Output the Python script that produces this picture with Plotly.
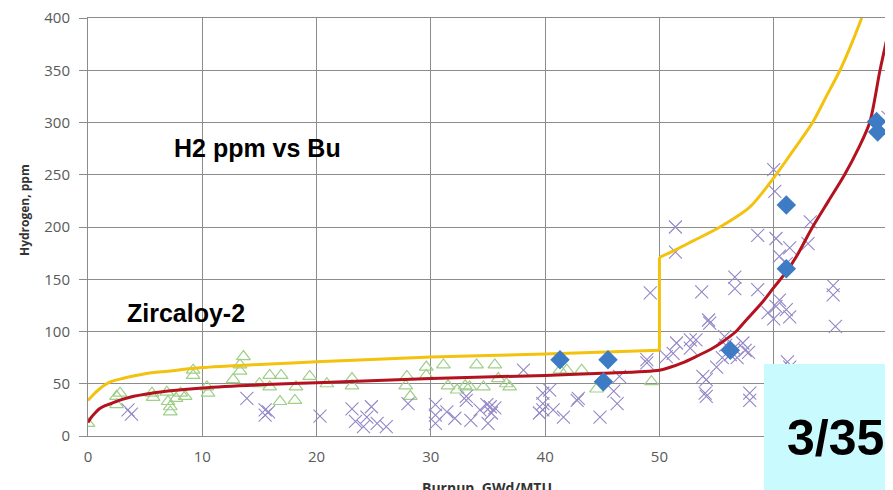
import plotly.graph_objects as go

# ---- data ----
tri_x = [0, 2.5, 2.8, 2.5, 5.6, 5.7, 6.9, 7.0, 7.2, 7.2, 7.7, 8.1, 8.5, 9.2, 9.2, 10.4, 10.5,
         12.7, 13.6, 13.3, 13.3, 15.0, 15.9, 16.9, 15.9, 16.8, 18.1, 18.2, 19.4, 20.9, 23.1, 23.1,
         27.9, 27.8, 28.2, 29.6, 31.1, 29.6, 31.5, 32.3, 33.0, 34.0, 35.6, 34.6, 35.9, 36.9, 33.4,
         36.6, 41.3, 41.9, 43.2, 44.5, 49.3]
tri_y = [12, 38, 41, 30, 41, 37, 42, 33, 23, 28, 36, 41, 38, 63, 58, 47, 41,
         54, 76, 68, 62, 50, 58, 58, 47, 33, 34, 47, 57, 50, 55, 48,
         57, 48, 38, 66, 68, 58, 48, 44, 48, 68, 68, 47, 55, 47, 47,
         50, 63, 63, 63, 45, 52]

x_x = [3.5, 3.8, 13.9, 15.5, 15.5, 15.8, 20.3, 23.1, 23.4, 24.4, 24.8, 25.3, 26.1, 24.1, 28.0,
       30.4, 30.4, 30.4, 31.4, 32.1, 33.1, 33.5, 34.3, 34.9, 35.3, 35.0, 35.6, 38.1, 39.8, 33.1,
       35.2, 39.8, 39.5, 41.6, 42.8, 44.8, 46.3, 46.0, 40.4, 39.8, 40.7, 42.9, 46.5, 48.9, 50.6,
       51.5, 52.7, 53.2, 54.4, 55.0, 53.8, 54.1, 57.9, 54.1, 54.0, 57.3, 56.5, 57.8, 56.2, 55.8,
       55.5, 56.8, 57.5, 55.7, 49.2, 51.4, 51.4, 60.0, 60.1, 58.6, 60.2, 61.4, 63.2, 63.0, 56.6,
       56.6, 53.7, 58.6, 54.3, 60.2, 59.5, 61.1, 60.5, 60.0, 61.4, 65.2, 65.2, 65.4, 60.5, 61.1,
       52.7, 51.2, 48.9, 61.2, 61.4, 57.9, 70.0]
x_y = [25, 21, 36, 25, 20, 23, 19, 26, 14, 18, 28, 12, 9, 9, 31,
       30, 20, 12, 23, 17, 34, 15, 25, 30, 22, 12, 27, 63, 25, 38,
       28, 41, 22, 18, 34, 18, 31, 43, 44, 31, 25, 36, 57, 70, 76,
       89, 84, 92, 108, 66, 57, 38, 34, 54, 41, 89, 84, 80, 78, 87,
       75, 75, 82, 95, 137, 200, 176, 255, 234, 192, 189, 180, 205, 184, 152,
       141, 138, 140, 111, 124, 118, 121, 130, 112, 114, 144, 135, 105, 172, 165,
       92, 79, 73, 71, 66, 41, 305]

dia_x = [41.3, 45.5, 45.1, 56.2, 61.1, 61.1, 69.0, 69.1]
dia_y = [73, 73, 52, 82, 221, 160, 301, 291]

upper_x = [0, 0.5, 1, 1.5, 2, 3, 5, 7, 10, 15, 20, 30, 40, 50,
           50, 51.2, 53, 55.3, 57.9, 60, 61.5, 63.4, 64.6, 65.8, 66.8, 67.7]
upper_y = [34, 40, 45, 49, 52, 55, 59.5, 62, 65.5, 68.5, 71, 75.5, 78.5, 82,
           171, 177, 187, 200, 219, 247, 270, 300, 325, 350, 375, 400]

lower_x = [0, 0.3, 0.7, 1, 1.5, 2, 3, 4, 5, 7, 10, 15, 20, 30, 40, 45, 50,
           51, 52, 53.2, 54.5, 55.5, 56.7, 57.6, 59, 60, 61.1, 62, 63.4, 64.8, 66.2, 67.4, 68.4, 69.3, 70]
lower_y = [13, 18, 23, 26, 29, 31, 35, 38, 40, 43, 46, 49, 51, 55, 58, 60, 63,
           66, 70, 76, 83, 90, 100, 111, 128, 142, 157, 172, 200, 225, 250, 275, 300, 350, 385]

x_ticks = [0, 10, 20, 30, 40, 50, 60, 70]
x_labels = ["0", "10", "20", "30", "40", "50", "", ""]   # 60 and 70 sit under the page-number box
y_ticks = [0, 50, 100, 150, 200, 250, 300, 350, 400]

GRID = "#8c8c8c"
TICKFONT = dict(family="Open Sans, DejaVu Sans, sans-serif", size=15, color="#5a5a5a")
YELLOW = "#f3c20f"
RED = "#b3121e"

fig = go.Figure()
fig.add_trace(go.Scatter(x=tri_x, y=tri_y, mode="markers",
                         marker=dict(symbol="triangle-up-open", size=12, color="#9fcf88",
                                     line=dict(width=1.2, color="#9fcf88"))))
fig.add_trace(go.Scatter(x=x_x, y=x_y, mode="markers",
                         marker=dict(symbol="x-thin-open", size=13, color="#9387c6",
                                     line=dict(width=1.1, color="#9387c6"))))
# upper curve: smooth part below 50, the vertical step, smooth part above 50
fig.add_trace(go.Scatter(x=upper_x[:14], y=upper_y[:14], mode="lines",
                         line=dict(color=YELLOW, width=3, shape="spline", smoothing=0.8)))
fig.add_trace(go.Scatter(x=upper_x[13:15], y=upper_y[13:15], mode="lines",
                         line=dict(color=YELLOW, width=3)))
fig.add_trace(go.Scatter(x=upper_x[14:], y=upper_y[14:], mode="lines",
                         line=dict(color=YELLOW, width=3, shape="spline", smoothing=0.8)))
fig.add_trace(go.Scatter(x=lower_x, y=lower_y, mode="lines",
                         line=dict(color=RED, width=3, shape="spline", smoothing=0.8)))
fig.add_trace(go.Scatter(x=dia_x, y=dia_y, mode="markers",
                         marker=dict(symbol="diamond", size=15, color="#3d7cc4",
                                     line=dict(width=0))))


def px(xp):
    return (xp - 88) / 800


def py(yp):
    return (436 - yp) / 418


# page is offset by the body's 8px margin; figure sized so the plot lands at the same spot
fig.update_layout(
    width=885, height=482,
    margin=dict(l=80, r=5, t=10, b=54),
    paper_bgcolor="white", plot_bgcolor="white",
    showlegend=False,
    xaxis=dict(range=[0, 70], tickvals=x_ticks, ticktext=x_labels, automargin=False,
               showgrid=True, gridcolor=GRID, gridwidth=1,
               zeroline=False, showline=True, linecolor=GRID, mirror=True,
               tickfont=TICKFONT, ticks="", ticklabelstandoff=7, ticklabeloverflow="allow"),
    yaxis=dict(range=[0, 400], tickvals=y_ticks, automargin=False,
               showgrid=True, gridcolor=GRID, gridwidth=1,
               zeroline=False, showline=True, linecolor=GRID, mirror=True,
               tickfont=TICKFONT, ticks="outside", ticklen=8, tickcolor=GRID,
               ticklabelstandoff=6, ticklabeloverflow="allow"),
    shapes=[dict(type="rect", xref="paper", yref="paper",
                 x0=px(764), x1=px(900), y0=py(500), y1=py(364),
                 fillcolor="#c9fbfe", line=dict(width=0), layer="above")],
    annotations=[
        dict(text="<b>H2 ppm vs Bu</b>", xref="paper", yref="paper",
             x=px(257), y=py(148), xanchor="center", yanchor="middle", showarrow=False,
             font=dict(family="Liberation Sans, Arial, sans-serif", size=25, color="black")),
        dict(text="<b>Zircaloy-2</b>", xref="paper", yref="paper",
             x=px(186), y=py(313), xanchor="center", yanchor="middle", showarrow=False,
             font=dict(family="Liberation Sans, Arial, sans-serif", size=25, color="black")),
        dict(text="<b>3/35</b>", xref="paper", yref="paper",
             x=px(835), y=py(438), xanchor="center", yanchor="middle", showarrow=False,
             font=dict(family="Liberation Sans, Arial, sans-serif", size=50, color="black")),
        dict(text="<b>Hydrogen, ppm</b>", xref="paper", yref="paper", textangle=-90,
             x=px(25), y=py(210), xanchor="center", yanchor="middle", showarrow=False,
             font=dict(family="Open Sans, DejaVu Sans, sans-serif", size=12, color="#333333")),
        dict(text="<b>Burnup, GWd/MTU</b>", xref="paper", yref="paper",
             x=px(487), y=py(476), xanchor="center", yanchor="top", showarrow=False,
             font=dict(family="Open Sans, DejaVu Sans, sans-serif", size=14, color="#333333")),
    ],
)

fig.write_html("out.html")
